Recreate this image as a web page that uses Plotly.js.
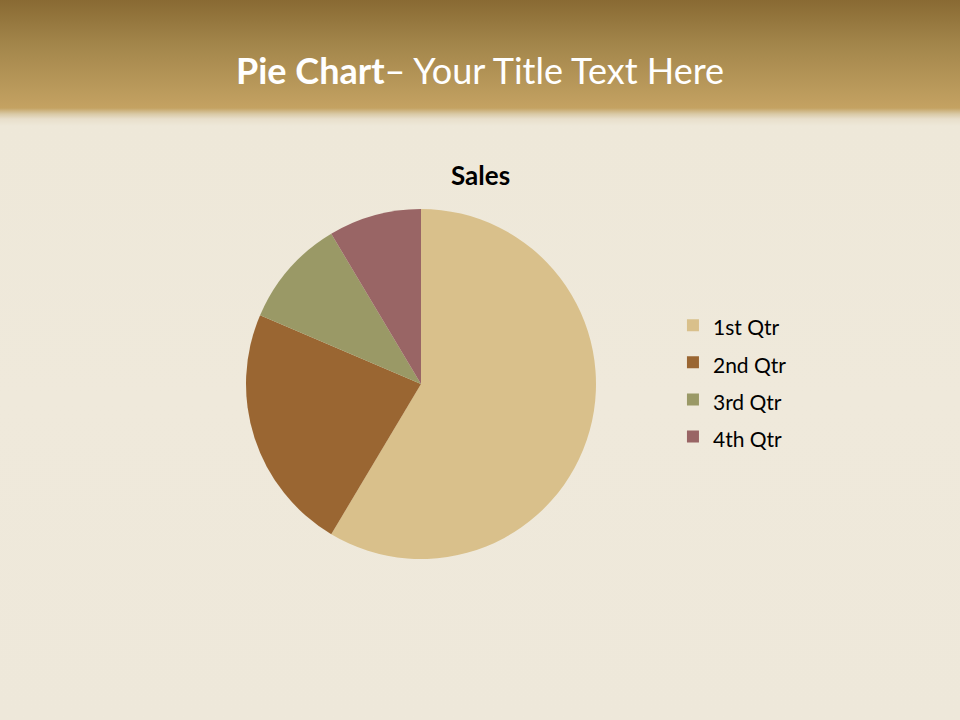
<!DOCTYPE html>
<html>
<head>
<meta charset="utf-8">
<script src="https://cdn.plot.ly/plotly-3.0.1.min.js"></script>
<style>
  html, body { margin: 0; padding: 0; }
  #chart {
    width: 960px; height: 720px;
    background: linear-gradient(to bottom,
      #896a33 0px, #a3864b 45px, #b8985a 85px, #c4a262 108px,
      #d9c9a6 114px, #e8dfcb 119px, #eee8d9 126px, #efe9db 400px, #eee8da 720px);
  }
</style>
</head>
<body>
<div id="chart"></div>
<script>
const categories = ["1st Qtr", "2nd Qtr", "3rd Qtr", "4th Qtr"];
const sales = [8.2, 3.2, 1.4, 1.2];
const sliceColors = ["#d9c08b", "#9a6632", "#9a9966", "#996565"];
const chartTitle = "Sales";
const slideTitleBold = "Pie Chart";
const slideTitleRest = "– Your Title Text Here";

const font = "Lato, 'Open Sans', sans-serif";

const data = [{
  type: "pie",
  labels: categories.map(c => '<span style="font-size:21px">' + c + '</span>'),
  values: sales,
  marker: { colors: sliceColors, line: { width: 0 } },
  sort: false,
  direction: "clockwise",
  rotation: 0,
  textinfo: "none",
  hoverinfo: "label+value",
  domain: { x: [0.25625, 0.62083], y: [0.2236, 0.7097] }
}];

const layout = {
  width: 960, height: 720,
  margin: { l: 0, r: 0, t: 0, b: 0 },
  paper_bgcolor: "rgba(0,0,0,0)",
  plot_bgcolor: "rgba(0,0,0,0)",
  font: { family: font, color: "#000" },
  showlegend: true,
  legend: {
    x: 0.701, y: 0.4705, xanchor: "left", yanchor: "middle",
    font: { size: 26.2, family: font, color: "#000" },
    bgcolor: "rgba(0,0,0,0)",
    itemwidth: 30
  },
  annotations: [
    {
      text: "<b>" + slideTitleBold + "</b>" + slideTitleRest,
      x: 0.5, y: 1 - 70 / 720, xref: "paper", yref: "paper",
      xanchor: "center", yanchor: "middle", showarrow: false,
      font: { size: 36, color: "#ffffff", family: font }
    },
    {
      text: "<b>" + chartTitle + "</b>",
      x: 0.5, y: 1 - 175 / 720, xref: "paper", yref: "paper",
      xanchor: "center", yanchor: "middle", showarrow: false,
      font: { size: 26, color: "#000000", family: font }
    }
  ]
};

Plotly.newPlot("chart", data, layout, { displayModeBar: false, staticPlot: true });
</script>
</body>
</html>
